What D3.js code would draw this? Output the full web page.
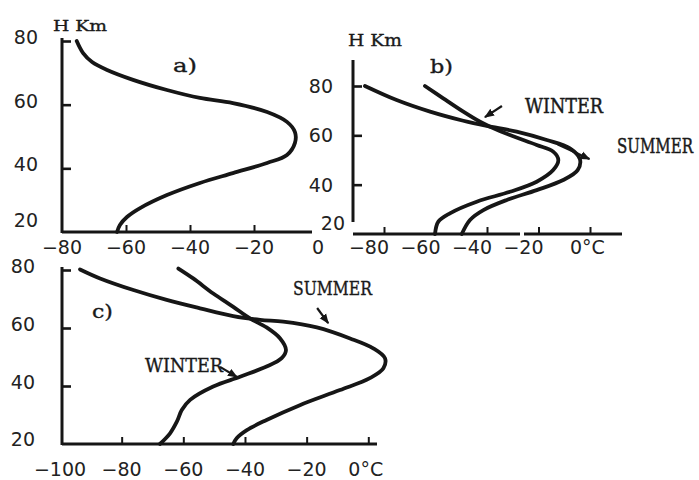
<!DOCTYPE html>
<html>
<head>
<meta charset="utf-8">
<script src="https://cdn.jsdelivr.net/npm/d3@7"></script>
<style>
body{ margin:0; background:#fff; }
svg{ display:block; }
.num{ font-family:"DejaVu Sans", sans-serif; font-size:19px; fill:#222; }
.typ{ font-family:"DejaVu Serif", "Liberation Serif", serif; fill:#1a1a1a; stroke:#1a1a1a; stroke-width:0.35; }
</style>
</head>
<body>
<svg id="chart" width="699" height="480"></svg>
<script>
'use strict'

var ink = '#161616';

var heightTicks = [20, 40, 60, 80];
var aTempTicks = [-80, -60, -40, -20, 0];
var bTempTicks = [-80, -60, -40, -20, 0];
var cTempTicks = [-100, -80, -60, -40, -20, 0];

// [temperature °C, height km]
var aProfile = [[-75.4,80],[-73.4,76.2],[-70.6,73.4],[-65.9,70.9],[-57.8,67.8],[-47.2,64.6],[-36.9,62.1],[-26.6,60.5],[-15.9,57.7],[-9.7,54.6],[-7.2,51.4],[-7.2,48],[-9.7,44.2],[-15.9,41.7],[-26.6,38.5],[-36.9,35.4],[-47.2,31.6],[-55.6,27.5],[-59.7,24.7],[-61.9,22.2],[-62.8,20]];

var bSummer = [[-87.4,80],[-75.1,74.3],[-62.1,69.6],[-49.2,65.9],[-40.1,63.8],[-28.5,61.5],[-16.8,58.1],[-7.8,54.7],[-3.9,50.3],[-4.8,45.9],[-10.4,41.9],[-20.7,37.8],[-32.3,33.8],[-41.4,29.7],[-46.6,25.7],[-49.8,20]];
var bWinter = [[-64.1,80],[-57,75],[-49.2,69.6],[-42.7,65.5],[-38.8,63.5],[-31.1,60.1],[-20.7,56.1],[-14.3,53.4],[-12.3,50],[-14.3,45.9],[-20.7,41.2],[-31.1,37.1],[-44,33.1],[-54.4,28.4],[-58.9,25],[-60.2,20]];

var cSummer = [[-93.5,80.2],[-87,77.1],[-76.2,73.1],[-65.4,69.7],[-54.6,66.8],[-43.8,64.1],[-35.1,62.8],[-27.6,62.2],[-16.7,60.2],[-5.9,56.4],[1.6,53],[5.4,49.6],[4.9,46.1],[0.5,42.7],[-9.2,38.6],[-22.2,33.4],[-33,28.3],[-39.4,24.8],[-42.7,22],[-43.8,20]];
var cWinter = [[-61.6,80.5],[-56.8,77.1],[-50.3,71.9],[-43.8,67.3],[-38.4,63.3],[-33,60.2],[-28.6,56.4],[-26.7,52.4],[-28.1,49.6],[-33,46.7],[-41.6,43.2],[-50.3,39.8],[-57.8,35.2],[-60.5,31.7],[-62.1,27.7],[-64.3,23.7],[-67.6,20]];

var svg = d3.select('#chart');

svg.append('defs').append('marker')
	.attr('id', 'arrow')
	.attr('viewBox', '0 0 10 10')
	.attr('refX', 9).attr('refY', 5)
	.attr('markerWidth', 10).attr('markerHeight', 10)
	.attr('markerUnits', 'userSpaceOnUse')
	.attr('orient', 'auto')
	.append('path')
	.attr('d', 'M0,1 L10,5 L0,9 Z')
	.attr('fill', ink);

function fmt(v){
	return v < 0 ? '\u2212' + Math.abs(v) : String(v);
}

function typeText(g, t){
	var el = g.append('text')
		.attr('class', 'typ')
		.attr('font-size', t.size)
		.attr('transform', `translate(${t.x},${t.y}) scale(1,${t.sy || 1})`)
		.text(t.text);
	if(t.w)
		el.attr('textLength', t.w).attr('lengthAdjust', 'spacingAndGlyphs');
}

function drawPanel(p){
	var x = d3.scaleLinear().domain(p.xDomain).range(p.xRange);
	var y = d3.scaleLinear().domain([20, 80]).range(p.yRange);
	var g = svg.append('g');

	// axis lines
	g.append('line')
		.attr('x1', p.axisX).attr('x2', p.axisX)
		.attr('y1', p.yTop).attr('y2', p.yBottom)
		.attr('stroke', ink).attr('stroke-width', 3);

	p.xLine.forEach(function(s){
		g.append('line')
			.attr('x1', s[0]).attr('x2', s[1])
			.attr('y1', p.axisY).attr('y2', p.axisY)
			.attr('stroke', ink).attr('stroke-width', 2.8);
	});

	// ticks
	g.append('g')
		.attr('transform', `translate(${p.axisX},0)`)
		.call(d3.axisRight(y).tickValues([40, 60, 80]).tickSize(9).tickSizeOuter(0).tickFormat(''))
		.call(function(a){ a.select('.domain').remove(); })
		.selectAll('line').attr('stroke', ink).attr('stroke-width', 2.6);

	g.append('g')
		.attr('transform', `translate(0,${p.axisY})`)
		.call(d3.axisTop(x).tickValues(p.xTicks).tickSize(7).tickSizeOuter(0).tickFormat(''))
		.call(function(a){ a.select('.domain').remove(); })
		.selectAll('line').attr('stroke', ink).attr('stroke-width', 2);

	// tick labels
	heightTicks.forEach(function(v){
		var base = v === 20;
		g.append('text')
			.attr('class', 'num')
			.attr('text-anchor', 'end')
			.attr('x', base ? p.baseLabelX : p.yLabelX)
			.attr('y', y(v) + (base ? p.baseLabelDy : p.yLabelDy))
			.attr('dy', '0.36em')
			.text(v);
	});

	p.xLabels.forEach(function(v){
		var t = g.append('text')
			.attr('class', 'num')
			.attr('y', p.xLabelY);
		if(v === 0 && p.degree){
			t.attr('x', x(0) - 20).attr('text-anchor', 'start').text('0°C');
		}else{
			t.attr('x', x(v) + p.xLabelDx).attr('text-anchor', 'middle').text(fmt(v));
		}
	});

	// profiles
	var line = d3.line()
		.x(function(d){ return x(d[0]); })
		.y(function(d){ return y(d[1]); })
		.curve(d3.curveCatmullRom.alpha(0.5));

	p.series.forEach(function(s){
		g.append('path')
			.attr('d', line(s))
			.attr('fill', 'none')
			.attr('stroke', ink)
			.attr('stroke-width', 3.8)
			.attr('stroke-linecap', 'round');
	});

	// arrows (data coords)
	(p.arrows || []).forEach(function(a){
		g.append('line')
			.attr('x1', x(a[0][0])).attr('y1', y(a[0][1]))
			.attr('x2', x(a[1][0])).attr('y2', y(a[1][1]))
			.attr('stroke', ink).attr('stroke-width', 2.2)
			.attr('marker-end', 'url(#arrow)');
	});

	p.texts.forEach(function(t){ typeText(g, t); });
}

drawPanel({
	xDomain: [-80, 0], xRange: [62, 318], yRange: [232, 41],
	axisX: 62, yTop: 38, yBottom: 233, axisY: 232, xLine: [[62, 312]],
	xTicks: [-60, -40, -20],
	yLabelX: 38, yLabelDy: -4, baseLabelX: 38, baseLabelDy: -12,
	xLabels: aTempTicks, xLabelY: 254, xLabelDx: 0, degree: false,
	series: [aProfile],
	texts: [
		{text: 'H Km', x: 53, y: 31, size: 15, w: 54},
		{text: 'a)', x: 173, y: 72, size: 18, w: 24}
	]
});

drawPanel({
	xDomain: [-80, 0], xRange: [384, 590], yRange: [234, 86],
	axisX: 353, yTop: 60, yBottom: 222, axisY: 234, xLine: [[353, 520], [524, 622]],
	xTicks: bTempTicks,
	yLabelX: 333, yLabelDy: 0, baseLabelX: 345, baseLabelDy: -11,
	xLabels: bTempTicks, xLabelY: 254, xLabelDx: -15, degree: true,
	series: [bSummer, bWinter],
	arrows: [
		[[-34.2, 71.9], [-40.8, 67.4]],
		[[-12.5, 56.3], [-0.2, 50.4]]
	],
	texts: [
		{text: 'H Km', x: 348, y: 46, size: 17, w: 54},
		{text: 'b)', x: 430, y: 73, size: 19, w: 23},
		{text: 'WINTER', x: 525, y: 113, size: 15, sy: 1.42, w: 78},
		{text: 'SUMMER', x: 617, y: 153, size: 15, sy: 1.42, w: 76}
	]
});

drawPanel({
	xDomain: [-100, 0], xRange: [60, 368.3], yRange: [444, 270],
	axisX: 62, yTop: 267, yBottom: 445, axisY: 444, xLine: [[62, 377]],
	xTicks: [-80, -60, -40, -20, 0],
	yLabelX: 35, yLabelDy: -4, baseLabelX: 35, baseLabelDy: -5,
	xLabels: cTempTicks, xLabelY: 476, xLabelDx: 0, degree: true,
	series: [cSummer, cWinter],
	arrows: [
		[[-16.6, 66.9], [-13.0, 61.7]],
		[[-48.1, 46.6], [-42.6, 43.1]]
	],
	texts: [
		{text: 'c)', x: 92, y: 318, size: 19, w: 21},
		{text: 'SUMMER', x: 293, y: 295, size: 18, w: 79},
		{text: 'WINTER', x: 145, y: 372, size: 18, w: 78}
	]
});
</script>
</body>
</html>
